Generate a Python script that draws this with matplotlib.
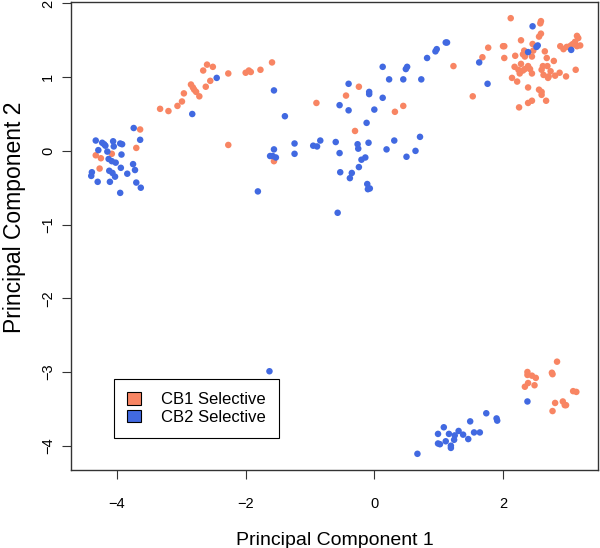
import numpy as np
import matplotlib
matplotlib.use('Agg')
import matplotlib.pyplot as plt
from matplotlib.patches import Patch

plt.rcParams['font.family'] = ['Liberation Sans', 'DejaVu Sans']

# CB1 selective compounds (PC1, PC2)
cb1_pc1 = [-3.64, -3.70, -4.33, -4.25, -4.08, -4.27,
           -3.33, -3.20, -3.06, -2.99, -2.96, -2.85, -2.82, -2.80, -2.77, -2.72,
           -2.62, -2.55, -2.66, -2.60, -2.51, -2.27, -2.00, -1.95, -1.92, -1.77,
           -1.59, -2.27, -1.56,
           -0.90, -0.44, -0.24, -0.30, 0.32, 0.45,
           1.23, 1.53,
           2.12, 2.59, 2.58, 2.59, 2.56, 2.28, 2.46, 2.00, 2.02, 1.77, 2.33, 2.47,
           2.65, 2.89, 2.94, 3.15, 3.17, 3.12, 3.09, 3.07, 3.04, 2.99, 3.20, 3.15,
           1.68, 2.02, 2.19, 2.31, 2.34, 2.45, 2.68, 2.79, 2.28, 2.18, 2.39, 2.62,
           2.69, 2.24, 2.31, 2.34, 2.42, 2.60, 2.26, 2.45, 2.74, 2.88, 2.63, 2.71,
           2.81, 2.98, 3.13, 2.14, 2.22, 2.70, 2.39, 2.56, 2.60, 2.60, 2.67, 2.45,
           2.39, 2.25,
           2.84, 2.38, 2.38, 2.45, 2.51, 2.76, 2.77, 2.39, 2.34, 2.49, 3.09, 3.14,
           2.81, 2.93, 2.96, 2.98, 2.77]
cb1_pc2 = [0.29, 0.04, -0.06, -0.10, -0.04, -0.24,
           0.57, 0.54, 0.61, 0.67, 0.78, 0.90, 0.86, 0.83, 0.80, 0.74,
           0.87, 0.95, 1.09, 1.17, 1.14, 1.05, 1.06, 1.09, 1.07, 1.10,
           1.20, 0.08, -0.14,
           0.65, 0.75, 0.87, 0.27, 0.53, 0.61,
           1.15, 0.74,
           1.80, 1.76, 1.73, 1.59, 1.55, 1.50, 1.45, 1.42, 1.42, 1.40, 1.36, 1.36,
           1.35, 1.42, 1.38, 1.56, 1.53, 1.48, 1.45, 1.44, 1.42, 1.41, 1.43, 1.42,
           1.27, 1.26, 1.29, 1.31, 1.28, 1.28, 1.26, 1.22, 1.18, 1.14, 1.15, 1.15,
           1.15, 1.10, 1.09, 1.11, 1.11, 1.10, 1.05, 1.05, 1.08, 1.06, 1.03, 1.01,
           1.02, 1.01, 1.10, 0.99, 0.94, 0.99, 0.86, 0.83, 0.80, 0.76, 0.68, 0.68,
           0.65, 0.59,
           -2.86, -3.00, -3.04, -3.05, -3.08, -3.01, -3.03, -3.15, -3.20, -3.18,
           -3.26, -3.27, -3.42, -3.40, -3.45, -3.45, -3.53]

# CB2 selective compounds (PC1, PC2)
cb2_pc1 = [-3.74, -3.64, -4.33, -4.23, -4.20, -4.18, -4.06, -3.95, -3.92, -4.29,
           -4.15, -4.05, -3.93, -4.13, -4.08, -4.02, -3.75, -3.94, -3.72, -4.39,
           -4.40, -4.12, -4.07, -3.84, -4.03, -4.30, -4.11, -3.70, -3.63, -3.95,
           -2.45, -2.83, -1.56, -1.39, -1.56, -1.62, -1.58, -1.53, -1.24, -1.24,
           -1.81, -0.95, -0.89, -0.84, -0.60, -0.54, -0.40, -0.40, -0.54, -0.57,
           -0.53, -0.35, -0.38, -0.24, -0.26, -0.25, -0.20, -0.14, -0.09, -0.12,
           -0.08, -0.08, 0.00, 0.13, 0.13, 0.23, -0.11, -0.10, -0.07, 0.19,
           0.31, 0.45, 0.49, 0.51, 0.73, 0.82, 0.95, 0.97, 1.11, 1.13,
           0.71, 0.64, 0.50, 1.63, 1.76, 2.46, 2.39, 2.52, 2.54, 3.06,
           -1.63, 2.38, 1.74, 1.90, 1.91, 1.49, 1.08, 1.31, 0.99, 1.16,
           1.25, 1.38, 1.55, 1.64, 1.24, 1.11, 1.46, 0.99, 1.02, 1.19,
           1.19, 0.67]
cb2_pc2 = [0.31, 0.15, 0.14, 0.11, 0.09, 0.07, 0.13, 0.10, 0.09, 0.01,
           -0.01, 0.06, -0.05, -0.11, -0.14, -0.16, -0.18, -0.23, -0.26, -0.29,
           -0.34, -0.27, -0.30, -0.31, -0.35, -0.42, -0.42, -0.43, -0.50, -0.57,
           0.99, 0.50, 0.82, 0.47, 0.02, -0.07, -0.07, -0.09, 0.10, -0.04,
           -0.55, 0.07, 0.06, 0.14, 0.12, 0.62, 0.91, 0.55, -0.03, -0.84,
           -0.29, -0.30, -0.37, -0.22, 0.09, 0.03, -0.12, -0.09, 0.11, 0.38,
           0.80, 0.77, 0.56, 0.72, 1.14, 0.97, -0.45, -0.52, -0.51, 0.02,
           0.14, 0.97, 1.11, 1.14, 0.97, 1.26, 1.35, 1.38, 1.47, 1.47,
           0.19, 0.00, -0.08, 1.20, 0.91, 1.69, 1.34, 1.41, 1.43, 1.37,
           -2.99, -3.40, -3.56, -3.63, -3.66, -3.67, -3.75, -3.80, -3.84, -3.84,
           -3.86, -3.85, -3.82, -3.82, -3.92, -3.94, -3.91, -3.97, -3.98, -4.00,
           -4.03, -4.11]

orange = '#F88563'
blue = '#4169E1'

fig = plt.figure(figsize=(6.0, 5.48), dpi=100)
ax = fig.add_axes([0.1183, 0.1423, 0.8784, 0.8541])

ax.scatter(cb1_pc1, cb1_pc2, s=22, color=orange, edgecolors='none')
ax.scatter(cb2_pc1, cb2_pc2, s=22, color=blue, edgecolors='none')

ax.set_xlim(-4.715, 3.477)
ax.set_ylim(-4.33, 2.02)
ax.set_xticks([-4, -2, 0, 2])
ax.set_yticks([-4, -3, -2, -1, 0, 1, 2])
ax.tick_params(direction='out', length=6.5, width=0.8, labelsize=10.5, color='#333333')
ax.tick_params(axis='x', pad=13)
ax.tick_params(axis='y', pad=5)
for lab in ax.get_yticklabels():
    lab.set_rotation(90)
    lab.set_va('center')
for sp in ax.spines.values():
    sp.set_linewidth(1.0)
    sp.set_color('#333333')

ax.set_xlabel('Principal Component 1', fontsize=14, va='baseline')
ax.xaxis.set_label_coords(0.5, -0.160)
ax.set_ylabel('Principal Component 2', fontsize=16.5)
ax.yaxis.set_label_coords(-0.0854, 0.54)

handles = [Patch(facecolor=orange, edgecolor='black', linewidth=0.8, label='CB1 Selective'),
           Patch(facecolor=blue, edgecolor='black', linewidth=0.8, label='CB2 Selective')]
leg = ax.legend(handles=handles, loc='lower left', bbox_to_anchor=(0.0816, 0.068),
                fancybox=False, framealpha=1, edgecolor='black', fontsize=12,
                handlelength=0.8, handleheight=0.8, borderpad=0.8, labelspacing=0.15,
                handletextpad=1.2, borderaxespad=0)
leg.get_frame().set_linewidth(0.8)

fig.savefig('out.png', dpi=100)
